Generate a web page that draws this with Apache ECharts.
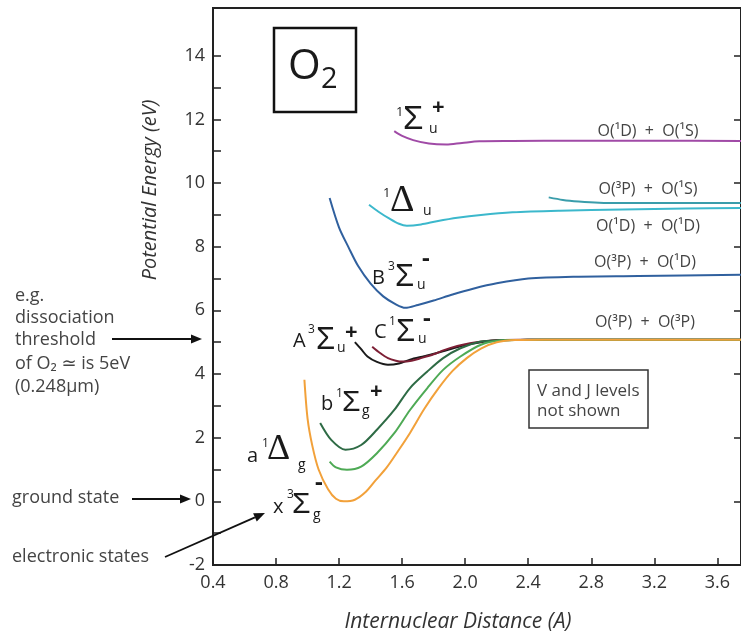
<!DOCTYPE html>
<html>
<head>
<meta charset="utf-8">
<title>O2 potential energy curves</title>
<script src="https://cdn.jsdelivr.net/npm/echarts@6/dist/echarts.min.js"></script>
<style>
  html, body { margin: 0; padding: 0; background: #fff; }
  #chart { width: 741px; height: 637px; }
</style>
</head>
<body>
<div id="chart"></div>
<script>
// axis ticks
const xTicks = [0.4, 0.8, 1.2, 1.6, 2.0, 2.4, 2.8, 3.2, 3.6];
const yLabels = [-2, 0, 2, 4, 6, 8, 10, 12, 14];
const yMinor = [-2, -1, 0, 1, 2, 3, 4, 5, 6, 7, 8, 9, 10, 11, 12, 13, 14];

// X3Σg- ground state
const groundR = [0.98, 1.00, 1.03, 1.07, 1.13, 1.18, 1.23, 1.30, 1.37, 1.43, 1.50, 1.57, 1.65, 1.74, 1.83, 1.92, 2.01, 2.10, 2.20, 2.32, 2.5, 3.0, 3.75];
const groundE = [3.82, 2.6, 1.75, 1.0, 0.38, 0.08, 0.0, 0.05, 0.3, 0.65, 1.05, 1.55, 2.15, 2.9, 3.55, 4.1, 4.5, 4.8, 5.0, 5.07, 5.08, 5.08, 5.08];
// a1Δg
const aR = [1.14, 1.18, 1.25, 1.34, 1.44, 1.55, 1.65, 1.76, 1.86, 1.97, 2.10, 2.22, 2.35, 2.5, 3.0, 3.75];
const aE = [1.25, 1.07, 0.99, 1.09, 1.51, 2.14, 2.87, 3.56, 4.13, 4.55, 4.92, 5.05, 5.07, 5.08, 5.08, 5.08];
// b1Σg+
const bR = [1.08, 1.15, 1.24, 1.34, 1.44, 1.55, 1.65, 1.76, 1.86, 1.97, 2.10, 2.22, 2.35, 2.5, 3.0, 3.75];
const bE = [2.46, 1.93, 1.62, 1.77, 2.25, 2.87, 3.56, 4.08, 4.50, 4.81, 5.02, 5.06, 5.07, 5.08, 5.08, 5.08];
// A3Σu+
const AR = [1.30, 1.34, 1.38, 1.44, 1.51, 1.58, 1.65, 1.74, 1.82, 1.92, 2.01, 2.10, 2.20, 2.35, 2.5, 3.0, 3.75];
const AE = [5.0, 4.78, 4.55, 4.38, 4.29, 4.33, 4.45, 4.56, 4.66, 4.80, 4.92, 5.0, 5.06, 5.07, 5.08, 5.08, 5.08];
// C1Σu-
const CR = [1.41, 1.46, 1.51, 1.56, 1.60, 1.66, 1.72, 1.80, 1.87, 1.95, 2.03, 2.12, 2.22, 2.35, 2.5, 3.0, 3.75];
const CE = [4.86, 4.66, 4.50, 4.42, 4.39, 4.42, 4.50, 4.62, 4.76, 4.88, 4.97, 5.03, 5.07, 5.08, 5.08, 5.08, 5.08];
// B3Σu-
const BR = [1.14, 1.20, 1.26, 1.32, 1.40, 1.48, 1.56, 1.62, 1.70, 1.80, 1.92, 2.05, 2.2, 2.4, 2.7, 3.1, 3.75];
const BE = [9.53, 8.6, 7.98, 7.4, 6.84, 6.44, 6.19, 6.08, 6.17, 6.31, 6.5, 6.68, 6.85, 7.0, 7.06, 7.08, 7.12];
// 1Δu
const DuR = [1.39, 1.45, 1.52, 1.58, 1.63, 1.72, 1.82, 1.95, 2.1, 2.3, 2.6, 3.0, 3.4, 3.75];
const DuE = [9.32, 9.1, 8.88, 8.72, 8.66, 8.7, 8.80, 8.91, 9.0, 9.08, 9.13, 9.17, 9.2, 9.22];
// O(3P) + O(1S) limit
const tealR = [2.53, 2.62, 2.72, 2.85, 3.0, 3.3, 3.75];
const tealE = [9.55, 9.47, 9.42, 9.38, 9.37, 9.37, 9.37];
// 1Σu+
const SuR = [1.55, 1.6, 1.67, 1.77, 1.88, 1.98, 2.09, 2.3, 2.7, 3.2, 3.75];
const SuE = [11.63, 11.48, 11.35, 11.24, 11.21, 11.26, 11.31, 11.32, 11.33, 11.33, 11.32];

const FONT = '"Open Sans", "DejaVu Sans", sans-serif';
const SANS = '"Liberation Sans", "DejaVu Sans", sans-serif';
const SERIF = '"Liberation Serif", "DejaVu Serif", serif';
const zip = (xs, ys) => xs.map((x, i) => [x, ys[i]]);

const curve = (name, xs, ys, color) => ({
  name: name,
  type: 'line',
  data: zip(xs, ys),
  smooth: 0.3,
  showSymbol: false,
  lineStyle: { color: color, width: 2 },
  z: 3
});

// text piece for the state labels
const txt = (text, x, y, size, extra) => ({
  type: 'text',
  z: 10,
  style: Object.assign({
    text: text, x: x, y: y,
    fontSize: size, fontFamily: FONT,
    fill: '#1a1a1a', align: 'left', verticalAlign: 'middle'
  }, extra || {})
});

const arrow = (x1, y1, x2, y2) => {
  const a = Math.atan2(y2 - y1, x2 - x1);
  const L = 11, W = 4.5;
  const bx = x2 - L * Math.cos(a), by = y2 - L * Math.sin(a);
  const px = -Math.sin(a) * W, py = Math.cos(a) * W;
  return [
    { type: 'line', z: 10, shape: { x1: x1, y1: y1, x2: bx, y2: by }, style: { stroke: '#111', lineWidth: 1.8 } },
    { type: 'polygon', z: 10, shape: { points: [[x2, y2], [bx + px, by + py], [bx - px, by - py]] }, style: { fill: '#111' } }
  ];
};

const sig = { fontFamily: SANS };
const del = { fontFamily: SERIF };
const bold = { fontWeight: 'bold' };
const small = { fill: '#444' };
const limit = Object.assign({ align: 'center' }, small);

const graphics = [
  // O2 box
  { type: 'rect', z: 10, shape: { x: 274, y: 28, width: 82, height: 84 }, style: { fill: 'none', stroke: '#111', lineWidth: 2.5 } },
  txt('O', 288, 67, 42),
  txt('2', 321, 80, 29),

  // 1Σu+
  txt('1', 396, 112, 13), txt('Σ', 403, 120, 33, sig), txt('u', 429, 129, 14), txt('+', 432, 108, 22, bold),
  // 1Δu
  txt('1', 383, 193, 13), txt('Δ', 390, 201, 38, del), txt('u', 423, 211, 14),
  // B3Σu-
  txt('B', 372, 278, 20), txt('3', 388, 267, 12), txt('Σ', 395, 277, 31, sig), txt('u', 417, 285, 14), txt('-', 422, 259, 24, bold),
  // A3Σu+
  txt('A', 293, 341, 20), txt('3', 308, 330, 12), txt('Σ', 316, 340, 31, sig), txt('u', 337, 348, 14), txt('+', 345, 333, 22, bold),
  // C1Σu-
  txt('C', 374, 332, 20), txt('1', 389, 322, 12), txt('Σ', 396, 332, 31, sig), txt('u', 418, 339, 14), txt('-', 423, 319, 24, bold),
  // b1Σg+
  txt('b', 321, 404, 20), txt('1', 336, 394, 12), txt('Σ', 342, 403, 30, sig), txt('g', 362, 411, 14), txt('+', 370, 392, 22, bold),
  // a1Δg
  txt('a', 247, 456, 20), txt('1', 262, 444, 12), txt('Δ', 267, 450, 36, del), txt('g', 298, 465, 14),
  // X3Σg-
  txt('x', 273, 507, 20), txt('3', 287, 495, 12), txt('Σ', 292, 505, 30, sig), txt('g', 313, 515, 14), txt('-', 315, 483, 24, bold),

  // dissociation limits
  txt('O(¹D)  +  O(¹S)', 648, 131, 16, limit),
  txt('O(³P)  +  O(¹S)', 648, 189, 16, limit),
  txt('O(¹D)  +  O(¹D)', 648, 226, 16, limit),
  txt('O(³P)  +  O(¹D)', 645, 262, 16, limit),
  txt('O(³P)  +  O(³P)', 645, 322, 16, limit),

  // note box
  { type: 'rect', z: 10, shape: { x: 529, y: 370, width: 119, height: 58 }, style: { fill: '#fff', stroke: '#333', lineWidth: 1.5 } },
  txt('V and J levels', 537, 391, 17, small),
  txt('not shown', 537, 411, 17, small),

  // left annotations
  txt('e.g.', 15, 296, 18, small),
  txt('dissociation', 15, 318, 18, small),
  txt('threshold', 15, 340, 18, small),
  txt('of O₂ ≃ is 5eV', 15, 364, 18, small),
  txt('(0.248µm)', 15, 387, 18, small),
  txt('ground state', 12, 498, 18, small),
  txt('electronic states', 12, 557, 18, small),
  ...arrow(112, 339, 202, 339),
  ...arrow(132, 499, 191, 499),
  ...arrow(165, 557, 265, 513),

  // axis titles
  { type: 'text', z: 10, x: 150, y: 190, rotation: Math.PI / 2,
    style: { text: 'Potential Energy (eV)', fontSize: 20, fontStyle: 'italic', fontFamily: FONT, fill: '#333', align: 'center', verticalAlign: 'middle' } },
  { type: 'text', z: 10,
    style: { text: 'Internuclear Distance (A)', x: 458, y: 622, fontSize: 21, fontStyle: 'italic', fontFamily: FONT, fill: '#333', align: 'center', verticalAlign: 'middle' } }
];

const chart = echarts.init(document.getElementById('chart'));

const axisLine = { show: true, onZero: false, lineStyle: { color: '#222', width: 2 } };

const option = {
  animation: false,
  backgroundColor: '#fff',
  // frame: the top edge is the grid border, the right edge falls just off the page
  grid: { left: 213, right: -2, top: 8, bottom: 72, show: true, borderColor: '#222', borderWidth: 2 },
  xAxis: {
    type: 'value', position: 'bottom', min: 0.4, max: 3.75, interval: 0.4,
    axisLine: axisLine,
    axisTick: { inside: true, length: 7, customValues: xTicks, lineStyle: { color: '#222', width: 1.5 } },
    axisLabel: { customValues: xTicks, formatter: v => v.toFixed(1), margin: 9, fontSize: 18, color: '#333', fontFamily: FONT },
    splitLine: { show: false }
  },
  yAxis: [
    {
      type: 'value', position: 'left', min: -2, max: 15.5, interval: 2,
      axisLine: axisLine,
      axisTick: { inside: true, length: 8, customValues: yMinor, lineStyle: { color: '#222', width: 1.5 } },
      axisLabel: { customValues: yLabels, margin: 8, fontSize: 18, color: '#333', fontFamily: FONT },
      splitLine: { show: false }
    },
    {
      type: 'value', position: 'right', min: -2, max: 15.5, interval: 2,
      axisLine: { show: false },
      axisTick: { show: true, inside: true, length: 7, customValues: yLabels, lineStyle: { color: '#222', width: 1.5 } },
      axisLabel: { show: false }, splitLine: { show: false }
    }
  ],
  series: [
    curve('1Σu+', SuR, SuE, '#a04aa6'),
    curve('O(3P)+O(1S)', tealR, tealE, '#3a9dab'),
    curve('1Δu', DuR, DuE, '#3cb8cc'),
    curve('B3Σu-', BR, BE, '#30609e'),
    curve('A3Σu+', AR, AE, '#1a1a1a'),
    curve('C1Σu-', CR, CE, '#7d1f35'),
    curve('b1Σg+', bR, bE, '#2e6b45'),
    curve('a1Δg', aR, aE, '#4eaa55'),
    curve('X3Σg-', groundR, groundE, '#f2a13a')
  ],
  graphic: graphics
};

chart.setOption(option);
</script>
</body>
</html>
